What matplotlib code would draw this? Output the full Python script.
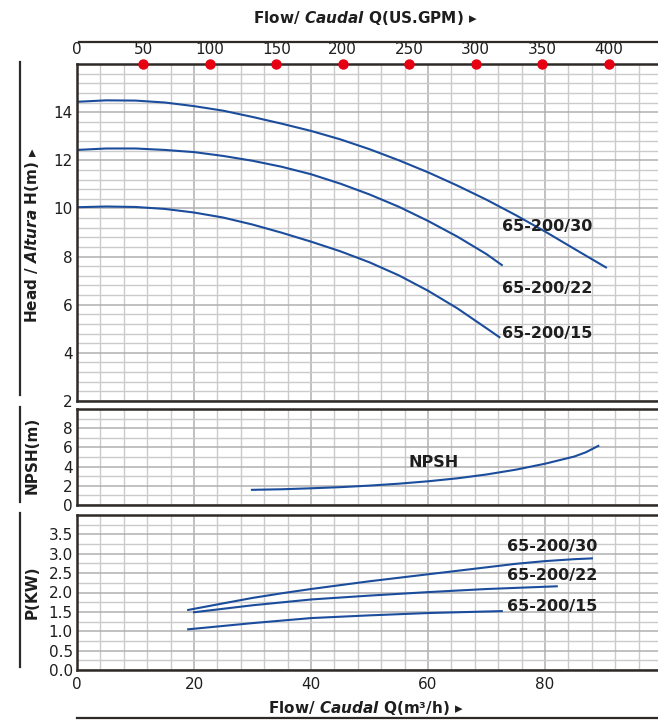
import numpy as np
import matplotlib
matplotlib.use("Agg")
import matplotlib.pyplot as plt
from matplotlib.lines import Line2D

plt.rcParams['font.family'] = ['DejaVu Sans']
plt.rcParams['mathtext.fontset'] = 'custom'
plt.rcParams['mathtext.it'] = 'DejaVu Sans:italic:bold'
plt.rcParams['mathtext.rm'] = 'DejaVu Sans:bold'
plt.rcParams['mathtext.bf'] = 'DejaVu Sans:bold'

# ---------------- data ----------------
models = ["65-200/30", "65-200/22", "65-200/15"]

q_h30 = [0, 5, 10, 15, 20, 25, 30, 35, 40, 45, 50, 55, 60, 65, 70, 75, 80, 85, 90.4]
h_30 = [14.43, 14.49, 14.48, 14.40, 14.25, 14.06, 13.80, 13.52, 13.22, 12.87, 12.46,
        12.00, 11.50, 10.95, 10.36, 9.72, 9.04, 8.32, 7.55]
q_h22 = [0, 5, 10, 15, 20, 25, 30, 35, 40, 45, 50, 55, 60, 65, 70, 72.6]
h_22 = [12.43, 12.49, 12.49, 12.43, 12.34, 12.18, 11.98, 11.73, 11.42, 11.03, 10.58,
        10.07, 9.48, 8.83, 8.10, 7.65]
q_h15 = [0, 5, 10, 15, 20, 25, 30, 35, 40, 45, 50, 55, 60, 65, 70, 72.2]
h_15 = [10.05, 10.08, 10.06, 9.98, 9.83, 9.62, 9.33, 8.99, 8.62, 8.22, 7.76,
        7.22, 6.58, 5.85, 5.02, 4.65]

q_npsh = [29.9, 35, 40, 45, 50, 55, 60, 65, 70, 75, 80, 85, 87, 89.1]
npsh = [1.58, 1.64, 1.74, 1.86, 2.02, 2.22, 2.47, 2.78, 3.18, 3.68, 4.30, 5.05, 5.50, 6.16]

q_p30 = [19, 25, 30, 35, 40, 45, 50, 55, 60, 65, 70, 75, 80, 85, 88]
p_30 = [1.55, 1.72, 1.86, 1.98, 2.09, 2.19, 2.29, 2.38, 2.47, 2.56, 2.65, 2.74, 2.81, 2.86, 2.88]
q_p22 = [20, 30, 40, 50, 60, 70, 82]
p_22 = [1.49, 1.67, 1.82, 1.92, 2.01, 2.09, 2.16]
q_p15 = [19, 30, 40, 50, 60, 72.6]
p_15 = [1.05, 1.21, 1.34, 1.41, 1.47, 1.52]

gpm_ticks = [0, 50, 100, 150, 200, 250, 300, 350, 400]
gpm_dots = [50, 100, 150, 200, 250, 300, 350, 400]
x_ticks = [0, 20, 40, 60, 80]
head_ticks = [2, 4, 6, 8, 10, 12, 14]
npsh_ticks = [0, 2, 4, 6, 8]
p_ticks = [0, 0.5, 1, 1.5, 2, 2.5, 3, 3.5]

M3H_TO_GPM = 4.4029

# ---------------- layout ----------------
W, H = 658, 720
fig = plt.figure(figsize=(W / 100, H / 100), dpi=100)

def rect(left, top, right, bottom):
    return [left / W, 1 - bottom / H, (right - left) / W, (bottom - top) / H]

XMAX = 99.3
curve_c = '#1b4d9c'
spine_c = '#2e2a28'
txt_c = '#1e1e1e'

def style(ax, ylim, yticks, yminor, xlabels=False):
    ax.set_xlim(0, XMAX)
    ax.set_ylim(*ylim)
    ax.set_xticks(x_ticks)
    ax.set_xticks(np.arange(0, XMAX, 4), minor=True)
    ax.set_yticks(yticks)
    ax.set_yticks(yminor, minor=True)
    ax.grid(which='minor', color='#cbcbcb', lw=1.0)
    ax.grid(which='major', color='#b0b0b0', lw=1.1)
    ax.set_axisbelow(True)
    ax.tick_params(which='both', length=0, labelsize=11, colors=txt_c, pad=3)
    if not xlabels:
        ax.tick_params(axis='x', labelbottom=False)
    ax.spines['right'].set_visible(False)
    for s in ['left', 'top', 'bottom']:
        ax.spines[s].set_color(spine_c)
        ax.spines[s].set_linewidth(1.8)

# Head panel
ax1 = fig.add_axes(rect(77, 64, W, 401))
style(ax1, (2, 16), head_ticks, np.arange(2, 16.01, 0.4))
for q, h in [(q_h30, h_30), (q_h22, h_22), (q_h15, h_15)]:
    ax1.plot(q, h, color=curve_c, lw=1.5)
for name, y in zip(models, [9.27, 6.69, 4.82]):
    ax1.text(72.6, y, name, fontsize=11.5, fontweight='bold', color=txt_c, va='center', ha='left')

secax = ax1.secondary_xaxis('top', functions=(lambda x: x * M3H_TO_GPM, lambda g: g / M3H_TO_GPM))
secax.set_xticks(gpm_ticks)
secax.tick_params(length=0, labelsize=11, colors=txt_c, pad=5)
secax.spines['top'].set_visible(False)
ax1.plot(np.array(gpm_dots) / M3H_TO_GPM, [16] * len(gpm_dots), 'o', color='#e60012',
         ms=6.5, clip_on=False, zorder=6)

# NPSH panel
ax2 = fig.add_axes(rect(77, 409, W, 505))
style(ax2, (0, 10), npsh_ticks, np.arange(0, 10.01, 1))
ax2.plot(q_npsh, npsh, color=curve_c, lw=1.5)
ax2.text(60.9, 4.4, "NPSH", fontsize=11.5, fontweight='bold', color=txt_c, ha='center', va='center')

# Power panel
ax3 = fig.add_axes(rect(77, 515, W, 670))
style(ax3, (0, 4), p_ticks, np.arange(0, 4.01, 0.25), xlabels=True)
for q, p in [(q_p30, p_30), (q_p22, p_22), (q_p15, p_15)]:
    ax3.plot(q, p, color=curve_c, lw=1.5)
for name, y in zip(models, [3.2, 2.43, 1.63]):
    ax3.text(73.5, y, name, fontsize=11.5, fontweight='bold', color=txt_c, va='center', ha='left')
ax3.tick_params(axis='x', pad=5)

# titles / axis labels
fig.text(366 / W, 1 - 18 / H, "Flow/ $\\mathit{Caudal}$ Q(US.GPM) \u25b8", ha='center', va='center',
         fontsize=11, fontweight='bold', color=txt_c)
fig.text(366 / W, 1 - 708 / H, "Flow/ $\\mathit{Caudal}$ Q(m\u00b3/h) \u25b8", ha='center', va='center',
         fontsize=11, fontweight='bold', color=txt_c)
fig.text(32 / W, 1 - 235 / H, "Head / $\\mathit{Altura}$ H(m) \u25b8", ha='center', va='center',
         rotation=90, fontsize=11, fontweight='bold', color=txt_c)
fig.text(32 / W, 1 - 455 / H, "NPSH(m)", ha='center', va='center',
         rotation=90, fontsize=11, fontweight='bold', color=txt_c)
fig.text(32 / W, 1 - 592 / H, "P(KW)", ha='center', va='center',
         rotation=90, fontsize=11, fontweight='bold', color=txt_c)

def hline(x0, x1, y):
    fig.add_artist(Line2D([x0 / W, x1 / W], [1 - y / H, 1 - y / H], color=spine_c, lw=1.6))

def vline(x, y0, y1):
    fig.add_artist(Line2D([x / W, x / W], [1 - y0 / H, 1 - y1 / H], color=spine_c, lw=1.6))

hline(79, W, 42)
hline(77, W, 718)
vline(20, 62, 395)
vline(20, 407, 502)
vline(20, 513, 667)

fig.savefig("out.png", dpi=100)
